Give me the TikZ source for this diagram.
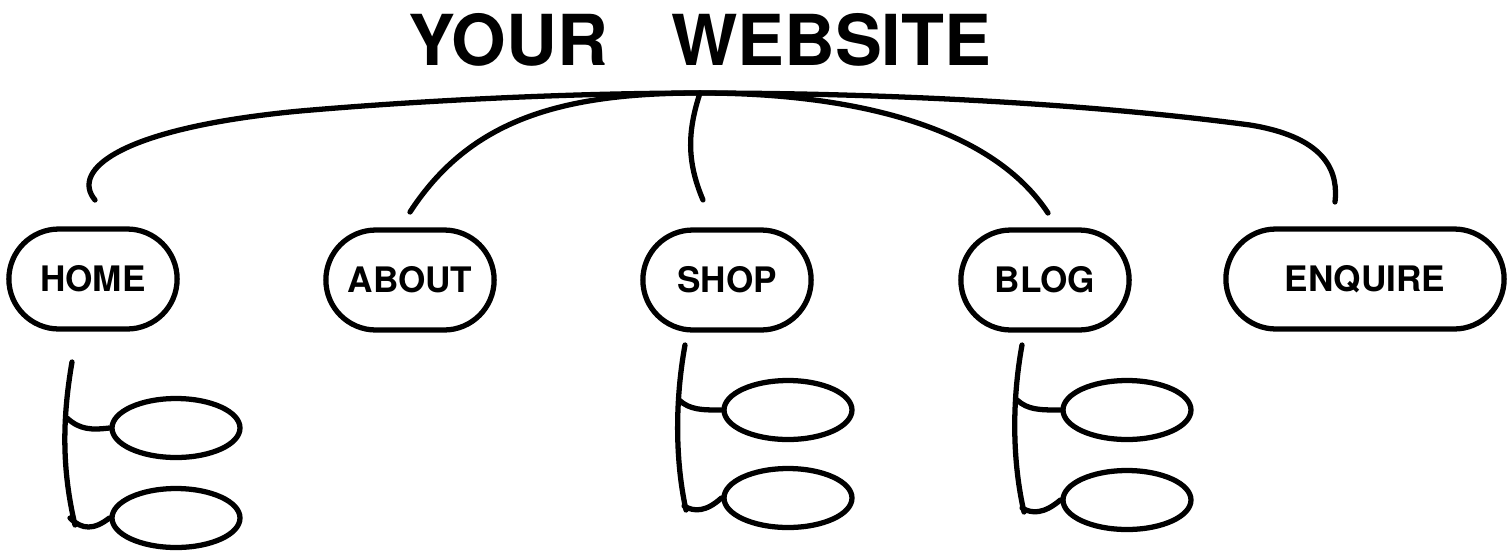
\documentclass[tikz,border=0pt]{standalone}
\usepackage{fontspec}
\setmainfont{TeX Gyre Heros}
\usetikzlibrary{positioning,shapes.geometric,shapes.misc}

\tikzset{
  link/.style={line width=3pt, line cap=round},
  pill/.style={draw, rounded rectangle, line width=3pt, minimum width=3.6cm,
    minimum height=2cm, font=\fontsize{20}{22}\selectfont\bfseries},
  leaf/.style={draw, ellipse, line width=3pt, minimum width=2.56cm, minimum height=1.18cm},
  headline/.style={font=\fontsize{40}{44}\selectfont\bfseries}
}

\begin{document}
\begin{tikzpicture}[x=0.02cm, y=-0.02cm]
    \useasboundingbox (0,0) rectangle (1512,552);

    % title
    \node[headline] (title) at (700,40) {YOUR\hspace{0.9em}WEBSITE};

    % main pages
    \node[pill] (home) at (93,279) {HOME};
    \node[pill] (about) at (410,280) {ABOUT};
    \node[pill] (shop) at (727,280) {SHOP};
    \node[pill] (blog) at (1045,280) {BLOG};
    \node[pill, minimum width=5.8cm] (enquire) at (1365,279) {ENQUIRE};

    % free ends above the pages
    \coordinate (hub) at (700,93);
    \coordinate (homeup) at (95,200);
    \coordinate (aboutup) at (410,212);
    \coordinate (shopup) at (703,200);
    \coordinate (blogup) at (1048,213);
    \coordinate (enqup) at (1335,202);

    % top branches
    \draw[link] (homeup) .. controls (70,170) and (120,128) .. (300,111)
        .. controls (450,98) and (600,93) .. (hub)
        .. controls (900,93) and (1100,105) .. (1250,125)
        .. controls (1330,138) and (1338,175) .. (enqup);
    \draw[link] (aboutup) .. controls (470,120) and (560,93) .. (hub);
    \draw[link] (shopup) .. controls (686,160) and (688,130) .. (hub);
    \draw[link] (blogup) .. controls (990,125) and (850,93) .. (hub);

    % sub pages
    \node[leaf] (home1) at (176,428) {};
    \node[leaf] (home2) at (176,518) {};
    \node[leaf] (shop1) at (788,410) {};
    \node[leaf] (shop2) at (788,498) {};
    \node[leaf] (blog1) at (1127,410) {};
    \node[leaf] (blog2) at (1127,500) {};

    % home subtree
    \coordinate (hometop) at (72,362);
    \coordinate (homebot) at (75,525);
    \draw[link] (hometop) .. controls (62,420) and (62,470) .. (homebot);
    \draw[link] (67,418) .. controls (80,430) and (92,430) .. (home1.west);
    \draw[link] (70,518) .. controls (82,530) and (94,530) .. (home2.west);

    % shop subtree
    \coordinate (shoptop) at (685,345);
    \coordinate (shopbot) at (686,510);
    \draw[link] (shoptop) .. controls (675,400) and (675,460) .. (shopbot);
    \draw[link] (679,400) .. controls (690,410) and (702,410) .. (shop1.west);
    \draw[link] (684,506) .. controls (694,512) and (706,512) .. (shop2.west);

    % blog subtree
    \coordinate (blogtop) at (1022,345);
    \coordinate (blogbot) at (1024,512);
    \draw[link] (blogtop) .. controls (1012,400) and (1012,460) .. (blogbot);
    \draw[link] (1017,400) .. controls (1028,410) and (1040,410) .. (blog1.west);
    \draw[link] (1022,508) .. controls (1032,514) and (1044,514) .. (blog2.west);
\end{tikzpicture}
\end{document}
